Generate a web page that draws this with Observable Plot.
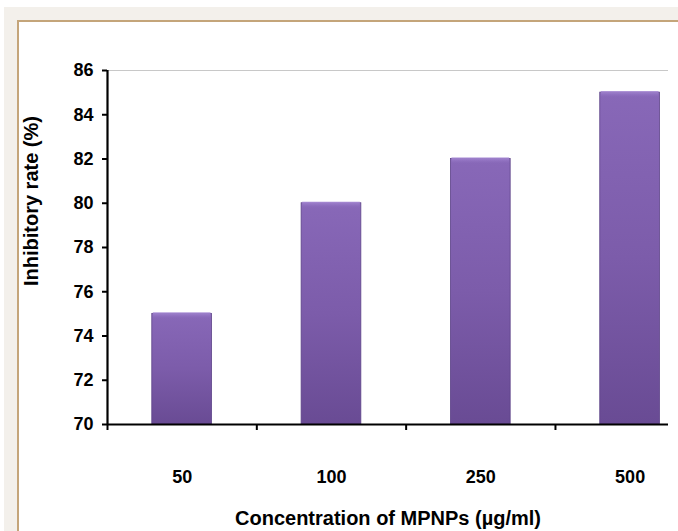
<!DOCTYPE html>
<html>
<head>
<meta charset="utf-8">
<script src="https://cdn.jsdelivr.net/npm/d3@7"></script>
<script src="https://cdn.jsdelivr.net/npm/@observablehq/plot@0.6"></script>
<style>
  html, body { margin: 0; padding: 0; background: #ffffff; width: 678px; height: 531px; overflow: hidden; }
  #outer { position: absolute; left: 4px; top: 7px; width: 720px; height: 600px; background: #f3f0eb; }
  #inner { position: absolute; left: 13px; top: 13px; width: 720px; height: 600px; background: #ffffff;
           border-left: 2px solid #c4a57a; border-top: 2px solid #c4a57a; }
  #chart { position: absolute; left: 0; top: 0; }
</style>
</head>
<body>
<div id="outer"><div id="inner"></div></div>
<div id="chart"></div>
<script>
const categories = ["50", "100", "250", "500"];
const values = [75, 80, 82, 85];
const yTicks = [70, 72, 74, 76, 78, 80, 82, 84, 86];
const xTitle = "Concentration of MPNPs (µg/ml)";
const yTitle = "Inhibitory rate (%)";

const data = categories.map((c, i) => ({cat: c, i, v: values[i]}));
const font = "'Liberation Sans', Arial, sans-serif";

const plot = Plot.plot({
  width: 678,
  height: 531,
  marginLeft: 107,
  marginRight: 10,
  marginTop: 70,
  marginBottom: 107,
  style: {background: "transparent", fontFamily: font, fontWeight: "bold", fontSize: "18px", color: "#000"},
  x: {type: "linear", domain: [0, 3.757], axis: null, label: null},
  y: {domain: [70, 86], axis: null, label: null},
  marks: [
    Plot.ruleY([86], {stroke: "#c8c8c8", strokeWidth: 1}),
    Plot.rectY(data, {x1: d => d.i + 0.3, x2: d => d.i + 0.7, y1: 70, y2: "v", fill: "url(#barGrad)", stroke: "#5d4388", strokeWidth: 0.8}),
    Plot.rectY(data, {x1: d => d.i + 0.3, x2: d => d.i + 0.7, y1: d => d.v, y2: d => d.v, insetTop: -1, insetBottom: -6, fill: "url(#topGrad)", insetLeft: 1, insetRight: 1}),
    Plot.axisY({ticks: yTicks, label: null, tickSize: 5, tickPadding: 9, tickFormat: d => String(d), fontSize: 18, fontWeight: "bold", stroke: "#000", strokeWidth: 2}),
    Plot.axisX({ticks: [0, 1, 2, 3], label: null, tickSize: 6, tickFormat: () => "", stroke: "#000", strokeWidth: 2}),
    Plot.axisX({ticks: categories.map((c, i) => i + 0.5), label: null, tickSize: 0, tickPadding: 46, tickFormat: d => categories[Math.floor(d)], fontSize: 18, fontWeight: "bold"}),
    Plot.ruleX([0], {stroke: "#000", strokeWidth: 2.2}),
    Plot.ruleY([70], {stroke: "#000", strokeWidth: 2.2}),
    Plot.text([yTitle], {frameAnchor: "left", y: 80.1, rotate: -90, dx: -76, textAnchor: "middle", fontSize: 20, fontWeight: "bold", text: d => d}),
    Plot.text([xTitle], {frameAnchor: "bottom", dy: 100, fontSize: 20, fontWeight: "bold", text: d => d})
  ]
});

const defs = `<defs>
  <linearGradient id="barGrad" x1="0" y1="0" x2="0" y2="1">
    <stop offset="0%" stop-color="#8868b8"/>
    <stop offset="50%" stop-color="#7c5caa"/>
    <stop offset="100%" stop-color="#694b94"/>
  </linearGradient>
  <linearGradient id="topGrad" x1="0" y1="0" x2="0" y2="1">
    <stop offset="0%" stop-color="#a88ad6"/>
    <stop offset="100%" stop-color="#8565b6" stop-opacity="0"/>
  </linearGradient>
</defs>`;
plot.insertAdjacentHTML("afterbegin", defs);
document.getElementById("chart").appendChild(plot);
</script>
</body>
</html>
